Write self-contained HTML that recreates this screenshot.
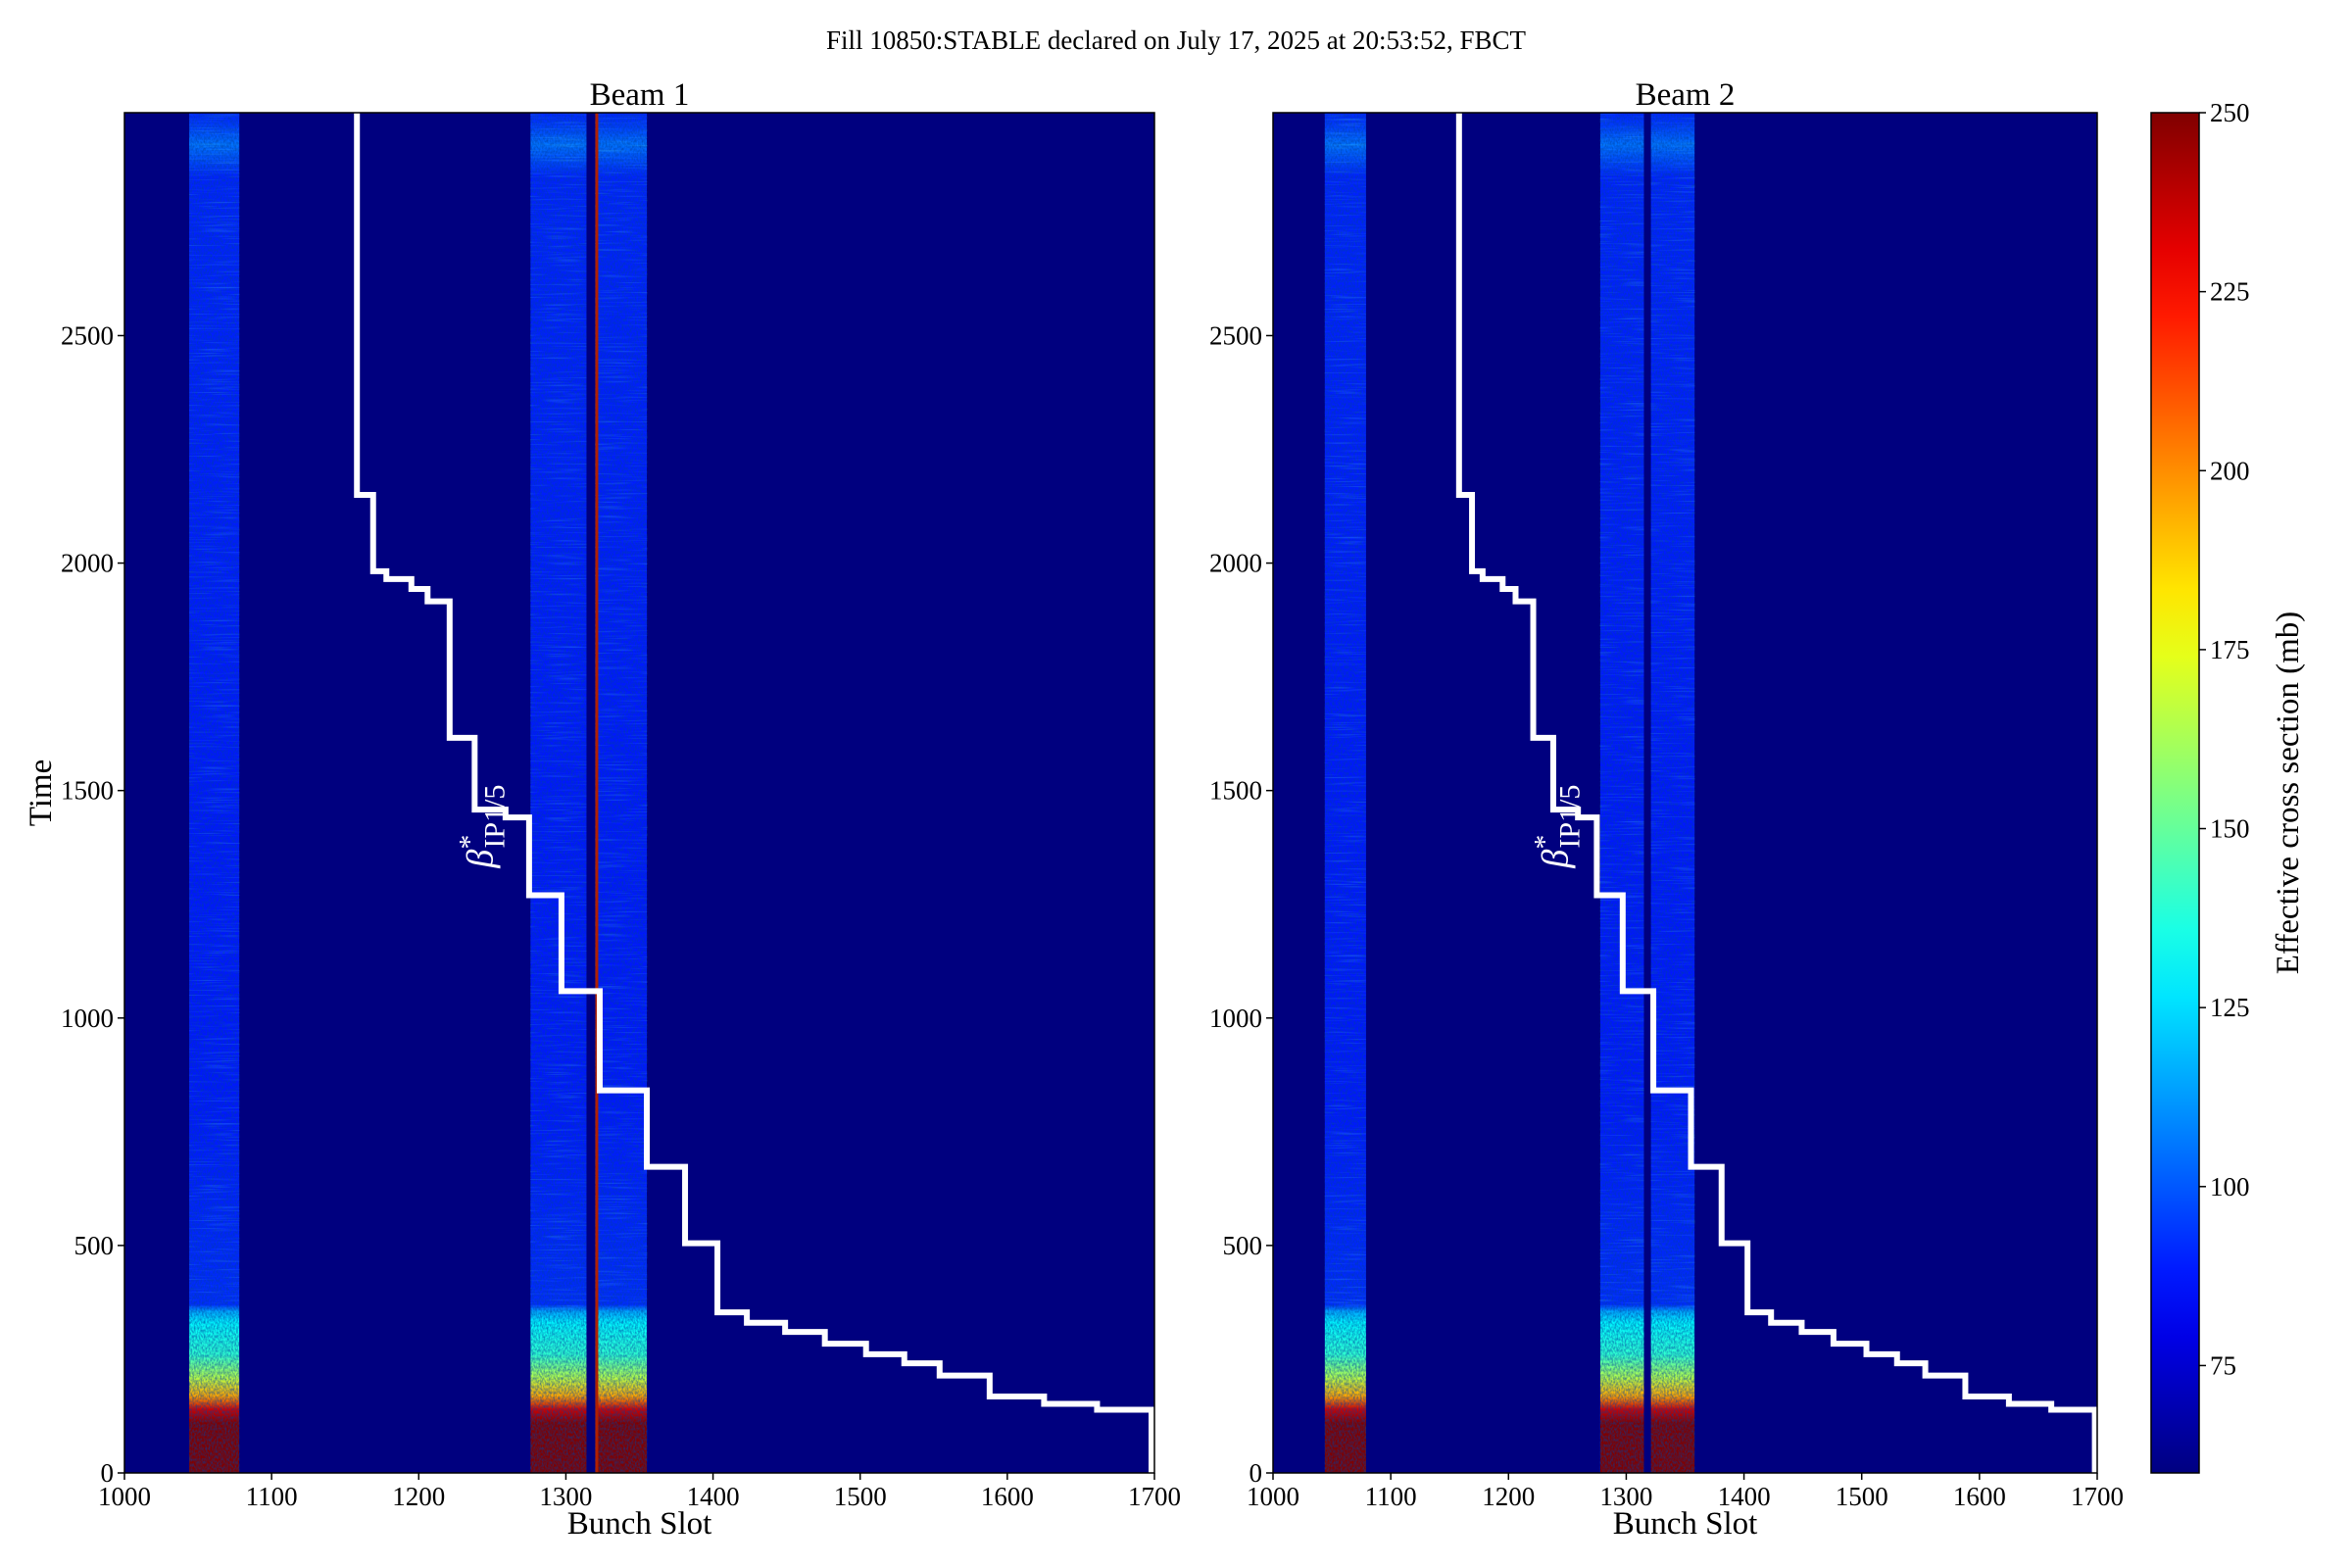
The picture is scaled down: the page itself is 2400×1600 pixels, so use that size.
<!DOCTYPE html>
<html><head><meta charset="utf-8"><style>
html,body{margin:0;padding:0;background:#fff;}
svg{display:block;font-family:"Liberation Serif",serif;}
</style></head><body>
<svg id="chart" width="2400" height="1600" viewBox="0 0 2400 1600" xmlns="http://www.w3.org/2000/svg">
<defs>
<filter id="noise" x="0" y="0" width="100%" height="100%">
<feTurbulence type="fractalNoise" baseFrequency="0.6 0.35" numOctaves="2" seed="3"/>
<feColorMatrix type="matrix" values="0 0 0 0 0  0 0 0 0 0.05  0 0 0 0 0.35  0 0 0 1.6 -0.5"/>
</filter>
<filter id="noise2" x="0" y="0" width="100%" height="100%">
<feTurbulence type="fractalNoise" baseFrequency="0.02 0.6" numOctaves="2" seed="7"/>
<feColorMatrix type="matrix" values="0 0 0 0 0.1  0 0 0 0 0.8  0 0 0 0 1  0 0 0 1.8 -1.0"/>
</filter>
</defs>
<text x="1200" y="50" font-size="27" text-anchor="middle">Fill 10850:STABLE declared on July 17, 2025 at 20:53:52, FBCT</text>
<g id="root"></g>
</svg>
<script>
// ---- data ----
const beamNames = ["Beam 1", "Beam 2"];
const bandsB1 = [[1044, 1078], [1276, 1314], [1320, 1355]];
const bandsB2 = [[1044, 1079], [1278, 1315], [1321, 1358]];
// cross-section profile vs time (time, mb)
const profileTimes = [0, 110, 140, 170, 210, 260, 330, 355, 370, 800, 1500, 2850, 2920, 2960, 2990];
const profileValues = [250, 250, 235, 195, 165, 140, 130, 115, 92, 88, 88, 90, 105, 95, 90];
const stepSlots = [1158, 1169, 1178, 1195, 1206, 1221, 1238, 1259, 1275, 1297, 1323, 1355, 1381, 1403, 1423, 1449, 1476, 1504, 1530, 1554, 1588, 1625, 1661, 1698];
const stepTimes = [2990, 2150, 1982, 1965, 1943, 1916, 1616, 1458, 1441, 1270, 1059, 841, 673, 505, 353, 330, 310, 284, 261, 241, 214, 168, 152, 139, 0];
const xTicks = [1000, 1100, 1200, 1300, 1400, 1500, 1600, 1700];
const yTicks = [0, 500, 1000, 1500, 2000, 2500];
const cbTicks = [75, 100, 125, 150, 175, 200, 225, 250];
const cbMin = 60, cbMax = 250, tMax = 2990;

const NS = "http://www.w3.org/2000/svg";
const root = document.getElementById("root");
function mk(tag, attrs, parent) { const e = document.createElementNS(NS, tag); for (const k in attrs) e.setAttribute(k, attrs[k]); (parent || root).appendChild(e); return e; }
function jet(v) {
  let x = Math.max(0, Math.min(1, (v - cbMin) / (cbMax - cbMin)));
  const c = t => Math.round(255 * Math.max(0, Math.min(1, t)));
  const r = c(1.5 - Math.abs(4 * x - 3)), g = c(1.5 - Math.abs(4 * x - 2)), b = c(1.5 - Math.abs(4 * x - 1));
  return `rgb(${r},${g},${b})`;
}
const yTop = 115, yBot = 1503;
const ys = t => yBot - (t / tMax) * (yBot - yTop);

const panels = [{ x0: 127, x1: 1178, bands: bandsB1, redline: true }, { x0: 1299, x1: 2140, bands: bandsB2, redline: false }];
panels.forEach((p, pi) => {
  const xs = s => p.x0 + (s - 1000) / 700 * (p.x1 - p.x0);
  const g = mk("g", {});
  
  
  mk("rect", { x: p.x0, y: yTop, width: p.x1 - p.x0, height: yBot - yTop, fill: "#00007f" }, g);
  const gid = "grad" + pi;
  const defs = mk("defs", {}, g);
  const lg = mk("linearGradient", { id: gid, x1: 0, y1: 1, x2: 0, y2: 0 }, defs);
  profileTimes.forEach((t, i) => mk("stop", { offset: t / tMax, "stop-color": jet(profileValues[i]) }, lg));
  p.bands.forEach((b, bi) => {
    const r = mk("rect", { x: xs(b[0]), y: yTop, width: xs(b[1]) - xs(b[0]), height: yBot - yTop, fill: `url(#${gid})` }, g);
    
    
    mk("rect", { x: xs(b[0]), y: yTop, width: xs(b[1]) - xs(b[0]), height: yBot - yTop, fill: "#000", filter: "url(#noise)", opacity: 0.75 }, g);
    mk("rect", { x: xs(b[0]), y: yTop, width: xs(b[1]) - xs(b[0]), height: ys(360) - yTop, fill: "#000", filter: "url(#noise2)", opacity: 0.35 }, g);
  });
  if (p.redline) {
    const l = mk("rect", { x: xs(1320), y: yTop, width: 3, height: yBot - yTop, fill: "#b02000" }, g);
    
    
  }
  // step line
  let d = `M${xs(stepSlots[0])},${ys(stepTimes[0])}`;
  stepSlots.forEach((s, i) => { d += ` L${xs(s)},${ys(stepTimes[i + 1])}`; if (i + 1 < stepSlots.length) d += ` L${xs(stepSlots[i + 1])},${ys(stepTimes[i + 1])}`; });
  const path = mk("path", { d, fill: "none", stroke: "#fff", "stroke-width": 6 }, g);
  
  
  const lx = xs(1250), ly = ys(1330);
  const lab = mk("text", { x: lx, y: ly, fill: "#fff", "font-size": 38, transform: `rotate(-90 ${lx} ${ly})` }, g);
  lab.innerHTML = '<tspan font-style="italic">β</tspan><tspan dy="-14" font-size="30">*</tspan><tspan dx="-14" dy="26" font-size="30">IP1/5</tspan>';
  
  
  mk("rect", { x: p.x0, y: yTop, width: p.x1 - p.x0, height: yBot - yTop, fill: "none", stroke: "#000", "stroke-width": 1.5 }, g);
  // ticks
  xTicks.forEach(v => {
    mk("line", { x1: xs(v), x2: xs(v), y1: yBot, y2: yBot + 7, stroke: "#000", "stroke-width": 1.5 }, g);
    const t = mk("text", { x: xs(v), y: yBot + 33, "font-size": 27, "text-anchor": "middle" }, g); t.textContent = v;
    
    
  });
  yTicks.forEach(v => {
    mk("line", { x1: p.x0 - 7, x2: p.x0, y1: ys(v), y2: ys(v), stroke: "#000", "stroke-width": 1.5 }, g);
    const t = mk("text", { x: p.x0 - 11, y: ys(v) + 9, "font-size": 27, "text-anchor": "end" }, g); t.textContent = v;
    
    
  });
  const xt = mk("text", { x: (p.x0 + p.x1) / 2, y: yBot + 62, "font-size": 33, "text-anchor": "middle" }, g); xt.textContent = "Bunch Slot";
  
  
  const tt = mk("text", { x: (p.x0 + p.x1) / 2, y: yTop - 8, "font-size": 33, "text-anchor": "middle" }, g); tt.textContent = beamNames[pi];
  
  
});
const yl = mk("text", { x: 52, y: 809, "font-size": 33, "text-anchor": "middle", transform: "rotate(-90 52 809)" }); yl.textContent = "Time";


// colorbar
const cb = mk("g", {});


const cx0 = 2195, cx1 = 2244;
const cdefs = mk("defs", {}, cb);
const cg = mk("linearGradient", { id: "cbg", x1: 0, y1: 1, x2: 0, y2: 0 }, cdefs);
for (let i = 0; i <= 20; i++) mk("stop", { offset: i / 20, "stop-color": jet(cbMin + i / 20 * (cbMax - cbMin)) }, cg);
mk("rect", { x: cx0, y: yTop, width: cx1 - cx0, height: yBot - yTop, fill: "url(#cbg)", stroke: "#000", "stroke-width": 1.5 }, cb);
const cy = v => yBot - (v - cbMin) / (cbMax - cbMin) * (yBot - yTop);
cbTicks.forEach(v => {
  mk("line", { x1: cx1, x2: cx1 + 7, y1: cy(v), y2: cy(v), stroke: "#000", "stroke-width": 1.5 }, cb);
  const t = mk("text", { x: cx1 + 11, y: cy(v) + 9, "font-size": 27 }, cb); t.textContent = v;
  
  
});
const ct = mk("text", { x: 2345, y: 809, "font-size": 33, "text-anchor": "middle", transform: "rotate(-90 2345 809)" }, cb); ct.textContent = "Effective cross section (mb)";


</script>
</body></html>
